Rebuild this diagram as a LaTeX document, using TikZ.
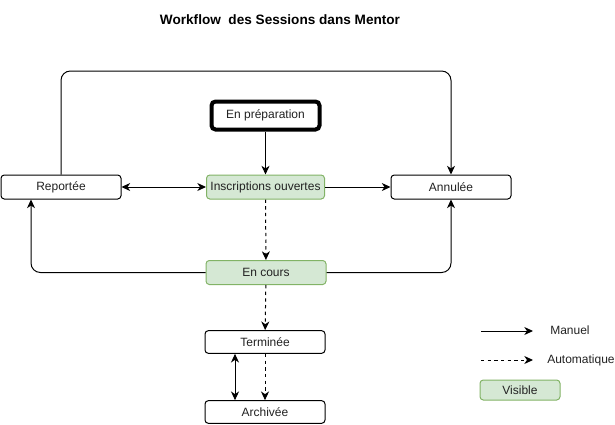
\documentclass[tikz,border=0pt]{standalone}
\usepackage{fontspec}
\setmainfont{Liberation Sans}
\usetikzlibrary{arrows.meta,calc}
\definecolor{vfill}{HTML}{D5E8D4}
\definecolor{vline}{HTML}{82B366}
\definecolor{txt}{HTML}{222222}
\tikzset{
  box/.style={draw=black, line width=0.75pt, rounded corners=2.5pt, fill=white, inner sep=0pt,
    minimum width=90pt, minimum height=18pt, font=\fontsize{9}{10}\selectfont, text=txt},
  vis/.style={box, draw=vline, fill=vfill},
  prepbox/.style={box, line width=3pt, rounded corners=3pt, minimum width=81pt, minimum height=21pt},
  arr/.style={line width=0.75pt, -{Stealth[length=6.5pt,width=6pt,inset=2pt]}},
  darr/.style={arr, dash pattern=on 2.5pt off 2.5pt},
  barr/.style={line width=0.75pt, {Stealth[length=6.5pt,width=6pt,inset=2pt]}-{Stealth[length=6.5pt,width=6pt,inset=2pt]}},
  lbl/.style={font=\fontsize{9}{10}\selectfont, text=txt, inner sep=0pt, anchor=west}
}
\begin{document}
\begin{tikzpicture}[x=0.75pt,y=-0.75pt]
\useasboundingbox (0,0) rectangle (615,425);
\node[font=\bfseries\fontsize{10.2}{12}\selectfont, inner sep=0pt] (title) at (280,20) {Workflow\ \ des Sessions dans Mentor};
\node[prepbox] (prep) at (265.5,115.5) {En préparation};
\node[box] (rep) at (61,187) {Reportée};
\node[vis, minimum width=88.5pt] (insc) at (265.5,187) {Inscriptions ouvertes};
\node[box] (ann) at (451,187) {Annulée};
\node[vis] (cours) at (266,272.5) {En cours};
\node[box, minimum height=17pt] (term) at (265,342) {Terminée};
\node[box, minimum height=17pt] (arch) at (265,412) {Archivée};
\coordinate (tl) at (61,71);
\coordinate (tr) at (451,71);
\coordinate (repB) at ([xshift=-22.5pt]rep.south);
\coordinate (termB) at ([xshift=-22.5pt]term.south);
\coordinate (archT) at ([xshift=-22.5pt]arch.north);
\draw[arr] (prep) -- (insc);
\draw[barr] (rep) -- (insc);
\draw[arr] (insc) -- (ann);
\draw[darr] (insc) -- (cours);
\draw[darr] (cours) -- (term);
\draw[arr, rounded corners=7pt] (rep.north) -- (tl) -- (tr) -- (ann.north);
\draw[arr, rounded corners=7pt] (cours.west) -| (repB);
\draw[arr, rounded corners=7pt] (cours.east) -| (ann.south);
\draw[barr] (termB) -- (archT);
\draw[darr] (term) -- (arch);
% legend
\coordinate (m1) at (481,331);
\coordinate (m2) at (533,331);
\coordinate (a1) at (481,360);
\coordinate (a2) at (533,360);
\draw[arr] (m1) -- (m2);
\draw[darr] (a1) -- (a2);
\node[lbl] (man) at (550,330) {Manuel};
\node[lbl] (aut) at (547,360) {Automatique};
\node[vis, minimum width=60pt, minimum height=15pt] (visl) at (520,390) {Visible};
\end{tikzpicture}
\end{document}
